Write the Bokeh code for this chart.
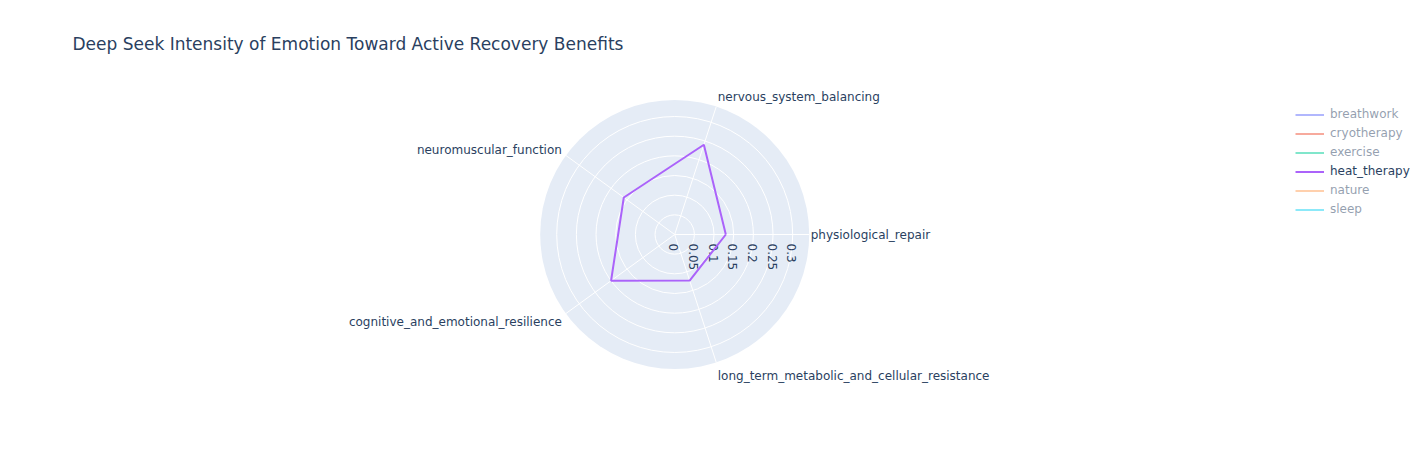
import math
from bokeh.plotting import figure
from bokeh.models import Label, Legend, LegendItem
from bokeh.core.properties import value
from bokeh.embed import file_html
from bokeh.resources import INLINE

# ---------------- data ----------------
categories = [
    "physiological_repair",
    "nervous_system_balancing",
    "neuromuscular_function",
    "cognitive_and_emotional_resilience",
    "long_term_metabolic_and_cellular_resistance",
]
series_names = ["breathwork", "cryotherapy", "exercise", "heat_therapy", "nature", "sleep"]
series_colors = ["#636EFA", "#EF553B", "#00CC96", "#AB63FA", "#FFA15A", "#19D3F3"]
# only heat_therapy is shown; the other series are legend-only (hidden) in the reference
heat_therapy = [0.13, 0.24, 0.16, 0.20, 0.123]
series_values = {"heat_therapy": heat_therapy}
radial_ticks = [0, 0.05, 0.1, 0.15, 0.2, 0.25, 0.3]
radial_tick_labels = ["0", "0.05", "0.1", "0.15", "0.2", "0.25", "0.3"]
title_text = "Deep Seek Intensity of Emotion Toward Active Recovery Benefits"

# ---------------- layout ----------------
W, H = 1412, 434
R_MAX = 0.342            # radial range max
SCALE = 393.3            # px per radial unit
CX, CY = 674.2, 234.0    # centre in px from top-left of the plot
FONT = "DejaVu Sans"
TXT = "#2a3f5f"

x0 = -CX / SCALE
x1 = (W - CX) / SCALE
y0 = -(H - CY) / SCALE
y1 = CY / SCALE

p = figure(width=W, height=H, x_range=(x0, x1), y_range=(y0, y1),
           output_backend="svg", toolbar_location=None,
           min_border=0, min_border_left=0, min_border_right=0,
           min_border_top=0, min_border_bottom=0)
p.axis.visible = False
p.grid.visible = False
p.outline_line_color = None
p.background_fill_color = "white"
p.border_fill_color = "white"

n = len(categories)
angles = [2 * math.pi * i / n for i in range(n)]

# background disc
p.circle(x=[0], y=[0], radius=R_MAX, fill_color="#E5ECF6", line_color=None)
# grid circles
grid_r = [t for t in radial_ticks if t > 0]
p.circle(x=[0] * len(grid_r), y=[0] * len(grid_r), radius=grid_r,
         fill_color=None, line_color="white", line_width=1)
# spokes
p.segment(x0=[0] * n, y0=[0] * n,
          x1=[R_MAX * math.cos(a) for a in angles],
          y1=[R_MAX * math.sin(a) for a in angles],
          line_color="white", line_width=1)

# angular labels
for cat, a in zip(categories, angles):
    c, s = math.cos(a), math.sin(a)
    if abs(c) < 1e-9:
        align = "center"
    elif c > 0:
        align = "left"
    else:
        align = "right"
    xo = 1.5 if c > 0.01 else (-4 if c < -0.01 else 0)
    yo = -(12 * s - 2 * abs(s))
    p.text(x=[R_MAX * c], y=[R_MAX * s], text=[cat], text_align=align,
           text_baseline="middle", text_font=value(FONT), text_font_size="12px",
           text_color=TXT, x_offset=xo, y_offset=yo)

# radial tick labels (rotated)
p.text(x=radial_ticks, y=[0] * len(radial_ticks), text=radial_tick_labels,
       angle=-math.pi / 2, text_align="left", text_baseline="middle",
       text_font=value(FONT), text_font_size="12px", text_color=TXT,
       x_offset=-1, y_offset=9)

# series
legend_items = []
for name, col in zip(series_names, series_colors):
    vals = series_values.get(name)
    if vals:
        xs = [v * math.cos(a) for v, a in zip(vals, angles)]
        ys = [v * math.sin(a) for v, a in zip(vals, angles)]
        xs.append(xs[0]); ys.append(ys[0])
        r = p.line(x=xs, y=ys, line_color=col, line_width=2)
    else:
        # legend-only series: no values shown in the reference
        r = p.line(x=[float("nan")], y=[float("nan")], line_color=col, line_width=2)
        r.visible = False
    legend_items.append(LegendItem(label=name, renderers=[r]))

legend = Legend(items=legend_items, location=(1295, 215.5), orientation="vertical",
                click_policy="hide", glyph_width=29, glyph_height=19,
                label_height=19, label_standoff=6, spacing=0, padding=0, margin=0,
                label_text_font=FONT, label_text_font_size="12px",
                label_text_color=TXT, border_line_color=None,
                background_fill_alpha=0, inactive_fill_color="white",
                inactive_fill_alpha=0.5)
p.add_layout(legend, "center")

# title
p.add_layout(Label(x=72, y=H - 43, x_units="screen", y_units="screen",
                   text=title_text, text_font=FONT, text_font_size="17px",
                   text_color=TXT, text_baseline="middle", text_align="left"))

open("out.html", "w").write(file_html(p, INLINE))
